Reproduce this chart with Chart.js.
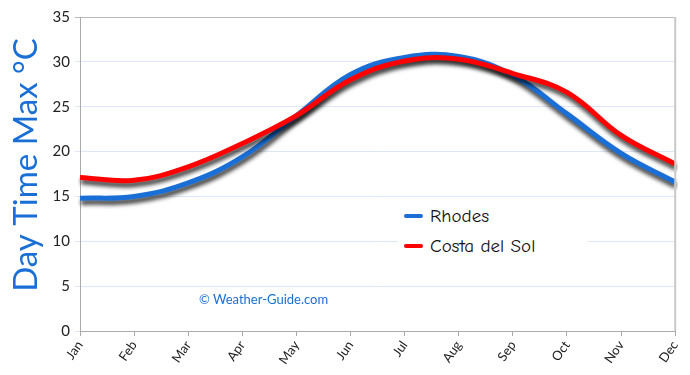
<!DOCTYPE html>
<html>
<head>
<meta charset="utf-8">
<script src="https://cdn.jsdelivr.net/npm/chart.js@4"></script>
<style>
  body { margin: 0; background: #fff; }
  #wrap { position: relative; width: 690px; height: 375px; }
  .legend { position: absolute; left: 398px; top: 200px; width: 190px; height: 60px; background: #fff;
            font-family: "Comic Neue", Lato, sans-serif; font-size: 19px; color: #111; }
  .legend div { position: absolute; left: 32px; line-height: 20px; }
  .legend span { position: absolute; left: -26px; top: 8px; width: 19px; height: 4px; border-radius: 2px; }
  .mark { position: absolute; left: 199px; top: 291px; font-family: Lato, sans-serif; font-size: 13px; color: #1a6fd6; }
</style>
</head>
<body>
<div id="wrap">
  <canvas id="tempChart" width="690" height="375"></canvas>
  <div class="legend">
    <div style="top:6px"><span style="background:#1a6fd6"></span>Rhodes</div>
    <div style="top:36px"><span style="background:#ff0000"></span>Costa del Sol</div>
  </div>
  <div class="mark">© Weather-Guide.com</div>
</div>
<script>
const months = ['Jan', 'Feb', 'Mar', 'Apr', 'May', 'Jun', 'Jul', 'Aug', 'Sep', 'Oct', 'Nov', 'Dec'];
const rhodes = [14.8, 15.0, 16.5, 19.4, 24.0, 28.6, 30.5, 30.6, 28.5, 24.2, 19.8, 16.6];
const costaDelSol = [17.1, 16.8, 18.3, 20.9, 24.0, 28.0, 30.1, 30.3, 28.7, 26.6, 21.8, 18.6];
const yTicks = [0, 5, 10, 15, 20, 25, 30, 35];
const yTitle = 'Day Time Max °C';

// soft dark shadow under each line
const lineShadow = {
  id: 'lineShadow',
  beforeDatasetDraw(chart) {
    const ctx = chart.ctx;
    ctx.save();
    ctx.shadowColor = 'rgba(0,0,0,0.8)';
    ctx.shadowBlur = 4;
    ctx.shadowOffsetX = 1;
    ctx.shadowOffsetY = 4;
  },
  afterDatasetDraw(chart) {
    chart.ctx.restore();
  }
};

// right border of the plot box + the vertical axis title
const frame = {
  id: 'frame',
  afterDraw(chart) {
    const a = chart.chartArea;
    const ctx = chart.ctx;
    ctx.save();
    ctx.strokeStyle = '#c8c8c8';
    ctx.lineWidth = 2;
    ctx.beginPath();
    ctx.moveTo(a.right, a.top);
    ctx.lineTo(a.right, a.bottom);
    ctx.stroke();

    ctx.translate(26, 165);
    ctx.rotate(-Math.PI / 2);
    ctx.fillStyle = '#1a6fd6';
    ctx.font = '33px Lato';
    ctx.textAlign = 'center';
    ctx.textBaseline = 'middle';
    ctx.fillText(yTitle, 0, 0);
    ctx.restore();
  }
};

new Chart(document.getElementById('tempChart'), {
  type: 'line',
  data: {
    labels: months,
    datasets: [{
        label: 'Rhodes',
        data: rhodes,
        borderColor: '#1a6fd6',
        borderWidth: 5,
        tension: 0.4,
        pointRadius: 0,
        order: 2
      },
      {
        label: 'Costa del Sol',
        data: costaDelSol,
        borderColor: '#ff0000',
        borderWidth: 5,
        tension: 0.4,
        pointRadius: 0,
        order: 1
      }
    ]
  },
  plugins: [lineShadow, frame],
  options: {
    responsive: false,
    animation: false,
    layout: { padding: { top: 17, right: 14, left: 0, bottom: 0 } },
    plugins: {
      legend: { display: false },
      tooltip: { enabled: false }
    },
    scales: {
      x: {
        offset: false,
        afterFit: function (scale) { scale.height = 44; },
        border: { color: '#aaa', width: 1 },
        grid: { drawOnChartArea: false, drawTicks: true, tickLength: 5, color: '#aaa' },
        ticks: {
          minRotation: 55,
          maxRotation: 55,
          padding: 2,
          color: '#222',
          font: { family: 'Lato', size: 13 }
        }
      },
      y: {
        min: 0,
        max: 35,
        afterFit: function (scale) { scale.width = 80; },
        afterBuildTicks: function (scale) { scale.ticks = yTicks.map(v => ({ value: v })); },
        border: { color: '#aaa', width: 1 },
        grid: {
          tickLength: 5,
          color: ctx => (ctx.tick && ctx.tick.value === 35) ? '#bbb' : '#dde7f7'
        },
        ticks: {
          padding: 5,
          color: '#222',
          font: { family: 'Lato', size: 15 }
        }
      }
    }
  }
});
</script>
</body>
</html>
